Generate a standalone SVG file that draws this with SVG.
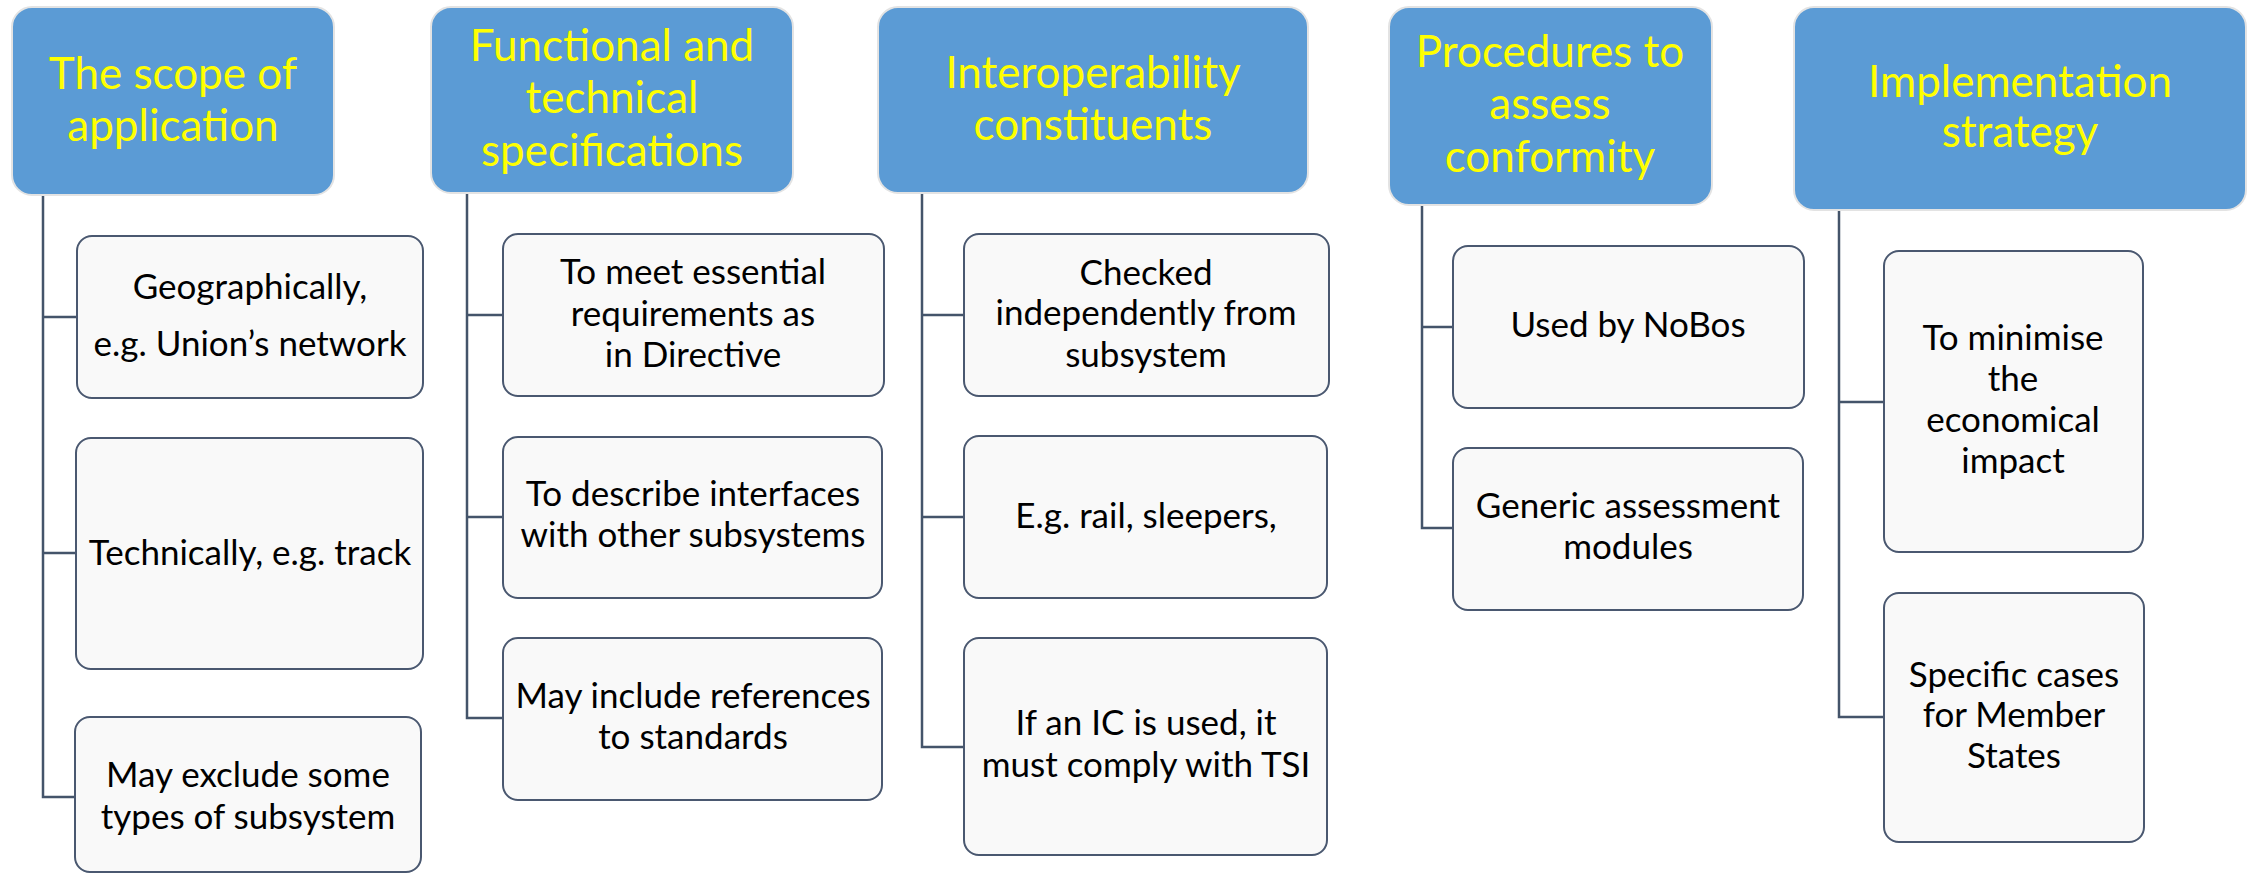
<svg xmlns="http://www.w3.org/2000/svg" width="2249" height="875" viewBox="0 0 2249 875">
  <style>
    .head rect { fill: #5B9BD5; stroke: #E3E3E3; stroke-width: 2; }
    .head text { fill: #FFFF00; font-family: Lato, "Open Sans", sans-serif; font-size: 44px; text-anchor: middle; }
    .item rect { fill: #F9F9F9; stroke: #4A5870; stroke-width: 2; }
    .item text { fill: #000000; font-family: Lato, "Open Sans", sans-serif; font-size: 35px; text-anchor: middle; }
    .links path { fill: none; stroke: #44546A; stroke-width: 2.5; }
  </style>
  <rect width="2249" height="875" fill="#FFFFFF"/>

  <!-- connectors: one trunk per column with a branch to each item -->
  <g id="connectors" class="links">
    <path d="M43 195 V797 H76 M43 317 H77 M43 553 H76"/>
    <path d="M467 193 V718 H503 M467 315 H503 M467 517 H503"/>
    <path d="M922 193 V747 H964 M922 315 H964 M922 517 H964"/>
    <path d="M1422 205 V528 H1453 M1422 327 H1453"/>
    <path d="M1839 210 V717 H1884 M1839 402 H1884"/>
  </g>

  <!-- column headers -->
  <g id="h-scope" class="head">
    <rect x="12" y="7" width="322" height="188" rx="20"/>
    <text x="173" y="89">The scope of</text>
    <text x="173" y="141">application</text>
  </g>
  <g id="h-specs" class="head">
    <rect x="431" y="7" width="362" height="186" rx="20"/>
    <text x="612" y="61">Functional and</text>
    <text x="612" y="113">technical</text>
    <text x="612" y="166">specifications</text>
  </g>
  <g id="h-ic" class="head">
    <rect x="878" y="7" width="430" height="186" rx="20"/>
    <text x="1093" y="88">Interoperability</text>
    <text x="1093" y="140">constituents</text>
  </g>
  <g id="h-conformity" class="head">
    <rect x="1389" y="7" width="323" height="198" rx="20"/>
    <text x="1550" y="67">Procedures to</text>
    <text x="1550" y="119">assess</text>
    <text x="1550" y="172">conformity</text>
  </g>
  <g id="h-strategy" class="head">
    <rect x="1794" y="7" width="452" height="203" rx="20"/>
    <text x="2020" y="97">Implementation</text>
    <text x="2020" y="147">strategy</text>
  </g>

  <!-- scope of application -->
  <g id="n-geo" class="item">
    <rect x="77" y="236" width="346" height="162" rx="15"/>
    <text x="250" y="299">Geographically,</text>
    <text x="250" y="356">e.g. Union’s network</text>
  </g>
  <g id="n-tech" class="item">
    <rect x="76" y="438" width="347" height="231" rx="15"/>
    <text x="250" y="565">Technically, e.g. track</text>
  </g>
  <g id="n-exclude" class="item">
    <rect x="75" y="717" width="346" height="155" rx="15"/>
    <text x="248" y="787">May exclude some</text>
    <text x="248" y="829">types of subsystem</text>
  </g>

  <!-- functional and technical specifications -->
  <g id="n-essential" class="item">
    <rect x="503" y="234" width="381" height="162" rx="15"/>
    <text x="693" y="284">To meet essential</text>
    <text x="693" y="326">requirements as</text>
    <text x="693" y="367">in Directive</text>
  </g>
  <g id="n-interfaces" class="item">
    <rect x="503" y="437" width="379" height="161" rx="15"/>
    <text x="693" y="506">To describe interfaces</text>
    <text x="693" y="547">with other subsystems</text>
  </g>
  <g id="n-standards" class="item">
    <rect x="503" y="638" width="379" height="162" rx="15"/>
    <text x="693" y="708">May include references</text>
    <text x="693" y="749">to standards</text>
  </g>

  <!-- interoperability constituents -->
  <g id="n-checked" class="item">
    <rect x="964" y="234" width="365" height="162" rx="15"/>
    <text x="1146" y="285">Checked</text>
    <text x="1146" y="325">independently from</text>
    <text x="1146" y="367">subsystem</text>
  </g>
  <g id="n-rail" class="item">
    <rect x="964" y="436" width="363" height="162" rx="15"/>
    <text x="1146" y="528">E.g. rail, sleepers,</text>
  </g>
  <g id="n-comply" class="item">
    <rect x="964" y="638" width="363" height="217" rx="15"/>
    <text x="1146" y="735">If an IC is used, it</text>
    <text x="1146" y="777">must comply with TSI</text>
  </g>

  <!-- procedures to assess conformity -->
  <g id="n-nobos" class="item">
    <rect x="1453" y="246" width="351" height="162" rx="15"/>
    <text x="1628" y="337">Used by NoBos</text>
  </g>
  <g id="n-modules" class="item">
    <rect x="1453" y="448" width="350" height="162" rx="15"/>
    <text x="1628" y="518">Generic assessment</text>
    <text x="1628" y="559">modules</text>
  </g>

  <!-- implementation strategy -->
  <g id="n-minimise" class="item">
    <rect x="1884" y="251" width="259" height="301" rx="15"/>
    <text x="2013" y="350">To minimise</text>
    <text x="2013" y="391">the</text>
    <text x="2013" y="432">economical</text>
    <text x="2013" y="473">impact</text>
  </g>
  <g id="n-specific" class="item">
    <rect x="1884" y="593" width="260" height="249" rx="15"/>
    <text x="2014" y="687">Specific cases</text>
    <text x="2014" y="727">for Member</text>
    <text x="2014" y="768">States</text>
  </g>
</svg>
